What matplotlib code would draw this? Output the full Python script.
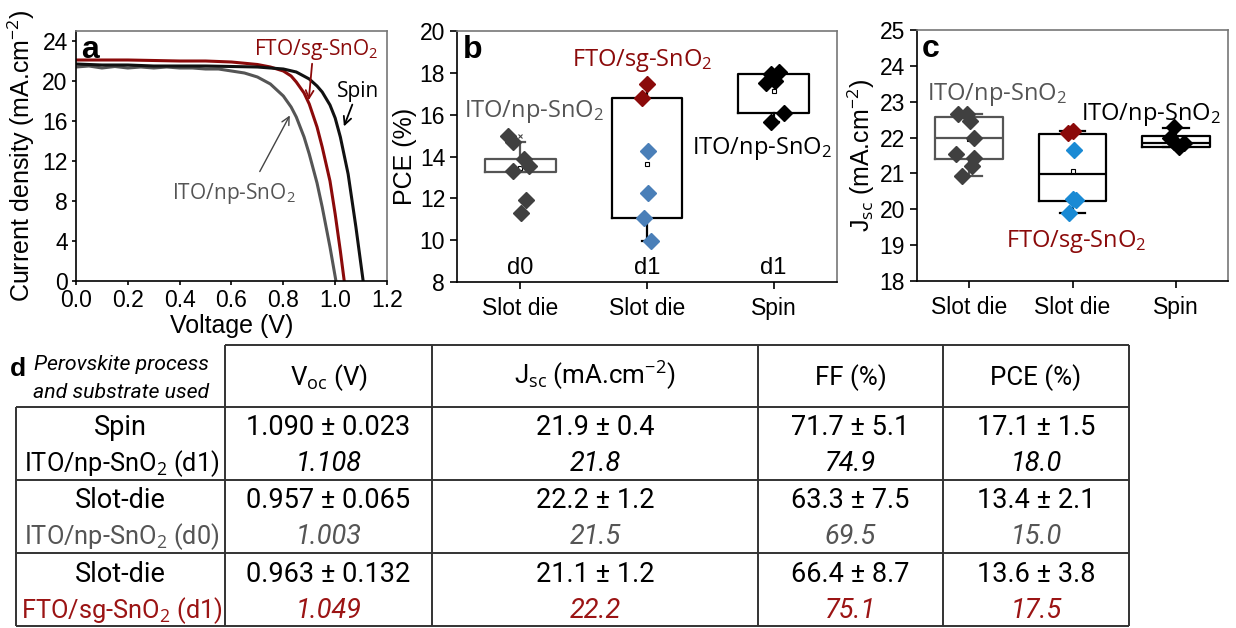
import matplotlib
matplotlib.use('Agg')
import matplotlib.pyplot as plt
from matplotlib import font_manager

# ---- panel a: J-V curves ----
v_spin = [0.0, 0.1, 0.2, 0.3, 0.4, 0.5, 0.6, 0.7, 0.75, 0.8, 0.85, 0.9, 0.93, 0.95, 0.98, 1.0, 1.02, 1.05, 1.08, 1.108]
j_spin = [21.7, 21.6, 21.6, 21.5, 21.5, 21.5, 21.45, 21.4, 21.3, 21.2, 20.9, 20.2, 19.5, 18.9, 17.6, 16.3, 14.4, 10.7, 5.4, 0.0]
v_fto = [0.0, 0.1, 0.2, 0.3, 0.4, 0.5, 0.6, 0.7, 0.75, 0.8, 0.83, 0.85, 0.88, 0.9, 0.93, 0.95, 0.98, 1.0, 1.02, 1.035]
j_fto = [22.1, 22.1, 22.1, 22.05, 22.0, 22.0, 21.9, 21.65, 21.4, 21.0, 20.5, 19.9, 18.8, 17.7, 15.4, 13.4, 10.0, 6.7, 3.0, 0.0]
v_ito = [0.0, 0.05, 0.1, 0.15, 0.2, 0.25, 0.3, 0.35, 0.4, 0.45, 0.5, 0.55, 0.6, 0.65, 0.7, 0.75, 0.8, 0.83, 0.85, 0.88, 0.9, 0.93, 0.95, 0.98, 1.003]
j_ito = [21.4, 21.5, 21.3, 21.45, 21.3, 21.4, 21.3, 21.4, 21.3, 21.3, 21.2, 21.2, 21.0, 20.8, 20.4, 19.7, 18.5, 17.4, 16.4, 14.4, 12.7, 9.8, 7.4, 3.4, 0.0]

# ---- panel b: PCE ----
cats = ['Slot die', 'Slot die', 'Spin']
tags = ['d0', 'd1', 'd1']
pce_d0 = [15.0, 14.7, 13.9, 13.55, 13.3, 11.9, 11.3]
pce_fto_red = [17.48, 16.81]
pce_fto_blue = [14.25, 12.27, 11.08, 9.94]
pce_spin = [17.5, 17.95, 17.6, 18.05, 16.1, 15.65]
pce_q1 = [13.27, 11.08, 16.1]
pce_q3 = [13.9, 16.81, 17.96]
pce_lo = [13.27, 9.94, 15.65]
pce_hi = [14.7, 17.48, 17.96]
pce_mean = [13.45, 13.63, 17.15]

# ---- panel c: Jsc ----
jsc_d0 = [22.67, 22.67, 22.47, 21.99, 21.53, 21.42, 21.21, 20.93]
jsc_fto_red = [22.12, 22.19]
jsc_fto_blue = [21.65, 20.3, 20.25, 19.9]
jsc_spin = [22.3, 21.98, 21.88, 21.84, 21.74]
jsc_q1 = [21.41, 20.23, 21.73]
jsc_med = [21.99, 20.98, 21.86]
jsc_q3 = [22.58, 22.09, 22.04]
jsc_lo = [20.93, 19.9, 21.73]
jsc_hi = [22.67, 22.19, 22.27]
jsc_mean = [21.95, 21.07, 21.9]

# ---- panel d: table ----
row_proc = ['Spin', 'Slot-die', 'Slot-die']
row_sub = ['ITO/np-SnO$_2$ (d1)', 'ITO/np-SnO$_2$ (d0)', 'FTO/sg-SnO$_2$ (d1)']
headers = ['V$_{\\mathrm{oc}}$ (V)', 'J$_{\\mathrm{sc}}$ (mA.cm$^{\\mathrm{-2}}$)', 'FF (%)', 'PCE (%)']
voc_avg = [1.090, 0.957, 0.963]
voc_sd = [0.023, 0.065, 0.132]
voc_best = [1.108, 1.003, 1.049]
jsc_avg = [21.9, 22.2, 21.1]
jsc_sd = [0.4, 1.2, 1.2]
jsc_best = [21.8, 21.5, 22.2]
ff_avg = [71.7, 63.3, 66.4]
ff_sd = [5.1, 7.5, 8.7]
ff_best = [74.9, 69.5, 75.1]
pcet_avg = [17.1, 13.4, 13.6]
pcet_sd = [1.5, 2.1, 3.8]
pcet_best = [18.0, 15.0, 17.5]

RED = '#8b0a0a'
GRAY = '#555555'
BLUE_B = '#4a7fb8'
BLUE_C = '#1a8ad4'
ANN = 'Open Sans'

plt.rcParams['font.family'] = 'Liberation Sans'
plt.rcParams['mathtext.fontset'] = 'custom'
plt.rcParams['mathtext.rm'] = 'Open Sans'
plt.rcParams['mathtext.it'] = 'Open Sans:italic'
plt.rcParams['mathtext.bf'] = 'Open Sans:bold'

names = {f.name for f in font_manager.fontManager.ttflist}
if 'Liberation Sans Narrow' in names:
    TF, TS = 'Liberation Sans Narrow', 1.0
else:
    TF, TS = 'Roboto', 0.93

fig = plt.figure(figsize=(12.36, 6.28), dpi=100)
W, H = 1236, 628


def px_axes(l, t, r, b):
    return fig.add_axes([l / W, 1 - b / H, (r - l) / W, (b - t) / H])


def style(ax, tl=4):
    for s in ['top', 'right']:
        ax.spines[s].set_color('#777777')
    for s in ax.spines.values():
        s.set_linewidth(1.2)
    ax.tick_params(direction='out', length=tl, width=1.2, labelsize=16.5, top=False, right=False)


# panel a
axa = px_axes(76, 31, 387, 281)
axa.plot(v_ito, j_ito, color=GRAY, lw=2.2)
axa.plot(v_fto, j_fto, color=RED, lw=2.2)
axa.plot(v_spin, j_spin, color='#111111', lw=2.2)
axa.set_xlim(0, 1.2)
axa.set_ylim(0, 25)
axa.set_xticks([0, 0.2, 0.4, 0.6, 0.8, 1.0, 1.2])
axa.set_xticklabels(['0.0', '0.2', '0.4', '0.6', '0.8', '1.0', '1.2'])
axa.set_yticks(range(0, 25, 4))
style(axa, tl=3)
axa.tick_params(axis='x', pad=3)
axa.tick_params(axis='y', pad=3)
axa.set_xlabel('Voltage (V)', fontsize=18, labelpad=1)
axa.set_ylabel('Current density (mA.cm$^{\\mathrm{-2}}$)', fontsize=18, labelpad=4)
axa.text(0.015, 0.985, 'a', transform=axa.transAxes, fontsize=23, fontweight='bold', va='top')
axa.text(0.926, 23.2, 'FTO/sg-SnO$_2$', color=RED, fontsize=15, family=ANN, ha='center', va='center')
axa.text(1.09, 19.0, 'Spin', color='black', fontsize=15, family=ANN, ha='center', va='center')
axa.text(0.61, 8.7, 'ITO/np-SnO$_2$', color=GRAY, fontsize=15, family=ANN, ha='center', va='center')
axa.annotate('', xy=(0.897, 17.8), xytext=(0.912, 22.0),
             arrowprops=dict(arrowstyle='->', color=RED, lw=1.3, mutation_scale=14))
axa.annotate('', xy=(1.03, 15.2), xytext=(1.07, 17.9),
             arrowprops=dict(arrowstyle='->', color='black', lw=1.3, mutation_scale=14))
axa.annotate('', xy=(0.83, 16.8), xytext=(0.704, 10.7),
             arrowprops=dict(arrowstyle='->', color='#444444', lw=1.0, mutation_scale=14))


def boxes(ax, q1, med, q3, lo, hi, mean, edge, width, capw, show_med):
    for i in range(3):
        st = [dict(q1=q1[i], med=med[i], q3=q3[i], whislo=lo[i], whishi=hi[i], mean=mean[i])]
        lp = dict(color=edge[i], lw=1.6)
        ax.bxp(st, positions=[i + 1], widths=width, capwidths=capw, showmeans=True, showfliers=False,
               boxprops=lp, whiskerprops=lp, capprops=lp,
               medianprops=dict(color=edge[i], lw=1.6 if show_med else 0),
               meanprops=dict(marker='s', markersize=3.5, mfc='white', mec='black', mew=0.8),
               manage_ticks=False, zorder=2)


def pts(ax, vals, xs, color):
    ax.plot(xs, vals, ls='none', marker='D', markersize=8, color=color, zorder=3)


# panel b
axb = px_axes(457, 31, 837, 282)
boxes(axb, pce_q1, pce_q1, pce_q3, pce_lo, pce_hi, pce_mean,
      [GRAY, 'black', 'black'], 0.56, 0.08, False)
pts(axb, pce_d0, [1 + d for d in [-0.1, -0.06, 0.03, 0.07, -0.06, 0.045, 0.005]], '#404040')
pts(axb, pce_fto_red, [2 + d for d in [0.0, -0.04]], RED)
pts(axb, pce_fto_blue, [2 + d for d in [0.005, 0.005, -0.025, 0.035]], BLUE_B)
pts(axb, pce_spin, [3 + d for d in [-0.06, -0.02, 0.01, 0.045, 0.08, -0.02]], 'black')
axb.plot(1, max(pce_d0), ls='none', marker='x', markersize=3, color='#444444', mew=0.8)
axb.set_xlim(0.5, 3.5)
axb.set_ylim(8, 20)
axb.set_yticks(range(8, 21, 2))
axb.set_xticks([1, 2, 3])
axb.set_xticklabels(cats)
style(axb, tl=5)
axb.tick_params(axis='x', pad=6)
axb.set_ylabel('PCE (%)', fontsize=18, labelpad=2)
for i, t in enumerate(tags):
    axb.text(i + 1, 8.68, t, fontsize=17, ha='center', va='center')
axb.text(0.015, 0.985, 'b', transform=axb.transAxes, fontsize=23, fontweight='bold', va='top')
axb.text(1.105, 16.13, 'ITO/np-SnO$_2$', color=GRAY, fontsize=17, family=ANN, ha='center', va='center')
axb.text(1.96, 18.57, 'FTO/sg-SnO$_2$', color=RED, fontsize=17, family=ANN, ha='center', va='center')
axb.text(2.91, 14.37, 'ITO/np-SnO$_2$', color='black', fontsize=17, family=ANN, ha='center', va='center')

# panel c
axc = px_axes(917, 30, 1228, 281)
boxes(axc, jsc_q1, jsc_med, jsc_q3, jsc_lo, jsc_hi, jsc_mean,
      [GRAY, 'black', 'black'], 0.65, 0.25, True)
pts(axc, jsc_d0, [1 + d for d in [-0.1, -0.02, 0.01, 0.05, -0.12, 0.05, 0.03, -0.07]], '#404040')
pts(axc, jsc_fto_red, [2 + d for d in [-0.04, 0.0]], RED)
pts(axc, jsc_fto_blue, [2 + d for d in [0.01, 0.0, 0.03, -0.03]], BLUE_C)
pts(axc, jsc_spin, [3 + d for d in [-0.02, -0.06, -0.02, 0.08, 0.03]], 'black')
axc.set_xlim(0.5, 3.5)
axc.set_ylim(18, 25)
axc.set_yticks(range(18, 26))
axc.set_xticks([1, 2, 3])
axc.set_xticklabels(cats)
style(axc, tl=5)
axc.tick_params(axis='x', pad=6)
axc.set_ylabel('J$_{\\mathrm{sc}}$ (mA.cm$^{\\mathrm{-2}}$)', fontsize=18, labelpad=2)
axc.text(0.015, 0.985, 'c', transform=axc.transAxes, fontsize=23, fontweight='bold', va='top')
axc.text(1.27, 23.19, 'ITO/np-SnO$_2$', color=GRAY, fontsize=17, family=ANN, ha='center', va='center')
axc.text(2.76, 22.63, 'ITO/np-SnO$_2$', color='black', fontsize=17, family=ANN, ha='center', va='center')
axc.text(2.04, 19.09, 'FTO/sg-SnO$_2$', color=RED, fontsize=17, family=ANN, ha='center', va='center')

# panel d: table drawn in pixel space
tab = fig.add_axes([0, 0, 1, 1], zorder=-1)
tab.set_xlim(0, W)
tab.set_ylim(H, 0)
tab.axis('off')
col_x = [16, 225, 432, 758, 943, 1129]
row_y = [345, 407, 480, 553, 626]
lk = dict(color='#333333', lw=1.4)
tab.hlines(row_y[0], col_x[1], col_x[-1], **lk)
tab.hlines(row_y[1:], col_x[0], col_x[-1], **lk)
tab.vlines(col_x[0], row_y[1], row_y[-1], **lk)
tab.vlines(col_x[1:], row_y[0], row_y[-1], **lk)

tab.text(18, 376, 'd', fontsize=19, fontweight='bold', ha='center', va='baseline')
tab.text(121, 370, 'Perovskite process', fontsize=15.3, family=TF, style='italic', ha='center', va='baseline')
tab.text(121, 398, 'and substrate used', fontsize=15.3, family=TF, style='italic', ha='center', va='baseline')
centers = [(col_x[i] + col_x[i + 1]) / 2 for i in range(5)]
for j, h in enumerate(headers):
    tab.text(centers[j + 1], 385, h, fontsize=20 * TS, family=TF, ha='center', va='baseline')

sub_col = ['black', GRAY, '#9b1414']
cols = [(voc_avg, voc_sd, voc_best, '{:.3f}'), (jsc_avg, jsc_sd, jsc_best, '{:.1f}'),
        (ff_avg, ff_sd, ff_best, '{:.1f}'), (pcet_avg, pcet_sd, pcet_best, '{:.1f}')]
for r in range(3):
    y1 = 435 + 73.5 * r
    y2 = 471 + 73.5 * r
    tab.text(centers[0], y1, row_proc[r], fontsize=21 * TS, family=TF, ha='center', va='baseline')
    tab.text(centers[0] + 1, y2, row_sub[r], fontsize=18.3, family=TF, ha='center', va='baseline',
             color=sub_col[r])
    for c, (avg, sd, best, f) in enumerate(cols):
        tab.text(centers[c + 1], y1, (f + ' \u00b1 ' + f).format(avg[r], sd[r]), fontsize=21 * TS,
                 family=TF, ha='center', va='baseline')
        tab.text(centers[c + 1], y2, f.format(best[r]), fontsize=21 * TS, family=TF, style='italic',
                 ha='center', va='baseline', color=sub_col[r])

fig.savefig('out.png', dpi=100)
